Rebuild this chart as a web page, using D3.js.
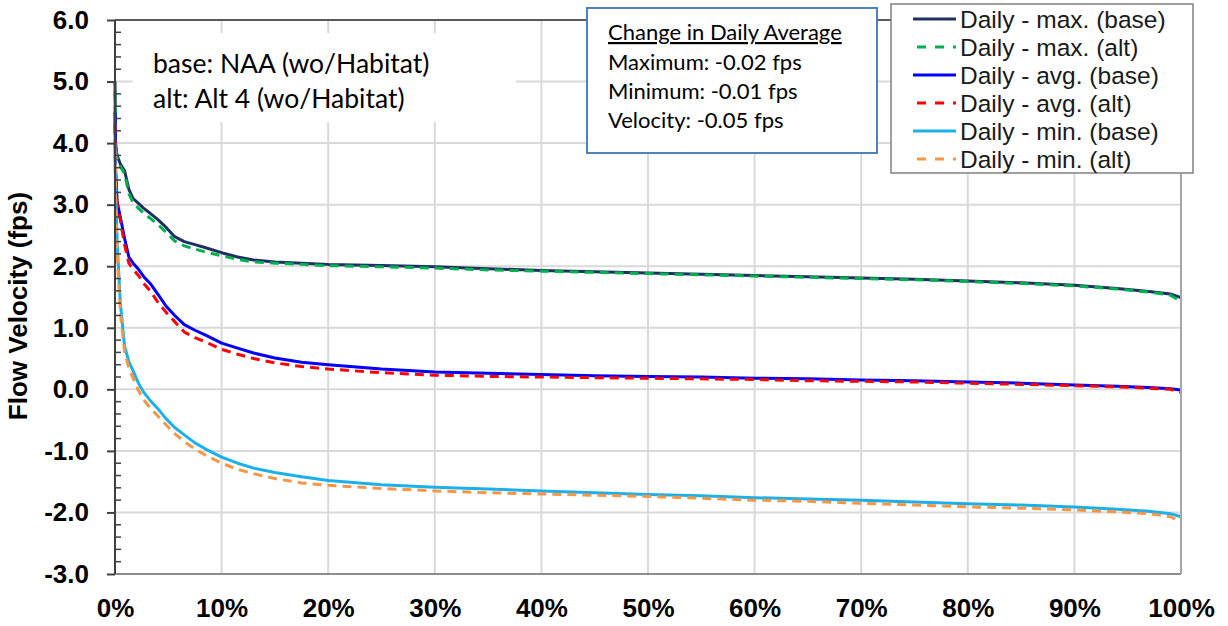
<!DOCTYPE html>
<html><head><meta charset="utf-8">
<script src="https://cdn.jsdelivr.net/npm/d3@7"></script>
<style>
body{margin:0;background:#fff;}
svg{display:block;}
.ar{font-family:'Liberation Sans', Arial, Helvetica, sans-serif;}
.cb{font-family:Lato, 'Open Sans', sans-serif;}
</style></head>
<body><svg id="c" width="1228" height="626"></svg>
<script>
// ---- data ----
const pct = [0,0.05,0.2,0.5,0.9,1.3,1.7,2.2,2.7,3.3,4,4.8,5.6,6.5,7.5,8.5,10,11.5,13,15,17.5,20,25,30,35,40,45,50,55,60,65,70,75,80,85,90,94,97,99,100];
const maxBase = [5.0,4.0,3.80,3.66,3.55,3.25,3.10,3.02,2.94,2.86,2.76,2.63,2.48,2.40,2.35,2.30,2.22,2.15,2.10,2.07,2.05,2.03,2.01,1.99,1.96,1.93,1.91,1.89,1.87,1.85,1.83,1.81,1.79,1.76,1.73,1.69,1.64,1.59,1.55,1.49];
const maxAlt  = [4.85,4.0,3.75,3.62,3.50,3.18,3.03,2.94,2.86,2.78,2.68,2.55,2.41,2.33,2.28,2.23,2.17,2.11,2.07,2.05,2.03,2.01,1.99,1.97,1.94,1.92,1.90,1.88,1.86,1.84,1.82,1.80,1.78,1.75,1.72,1.68,1.63,1.58,1.53,1.43];
const avgBase = [4.5,3.6,3.05,2.80,2.45,2.15,2.05,1.95,1.83,1.72,1.55,1.35,1.20,1.05,0.96,0.88,0.75,0.67,0.59,0.51,0.44,0.40,0.33,0.28,0.26,0.24,0.22,0.21,0.20,0.18,0.17,0.15,0.14,0.12,0.10,0.07,0.05,0.03,0.01,-0.01];
const avgAlt  = [4.3,3.5,3.0,2.75,2.35,2.05,1.95,1.85,1.72,1.60,1.42,1.25,1.10,0.93,0.84,0.77,0.65,0.57,0.50,0.43,0.37,0.33,0.27,0.23,0.21,0.20,0.19,0.18,0.17,0.16,0.14,0.13,0.12,0.10,0.08,0.06,0.04,0.02,0.0,-0.05];
const minBase = [4.0,3.3,2.4,1.4,0.70,0.45,0.30,0.10,-0.05,-0.18,-0.31,-0.48,-0.62,-0.74,-0.87,-0.97,-1.10,-1.20,-1.28,-1.35,-1.42,-1.48,-1.55,-1.59,-1.62,-1.65,-1.68,-1.71,-1.73,-1.76,-1.78,-1.80,-1.83,-1.86,-1.88,-1.91,-1.95,-1.98,-2.02,-2.07];
const minAlt  = [3.9,3.1,2.2,1.25,0.60,0.35,0.18,-0.02,-0.17,-0.30,-0.43,-0.58,-0.72,-0.85,-0.97,-1.07,-1.20,-1.30,-1.37,-1.45,-1.52,-1.56,-1.61,-1.65,-1.68,-1.70,-1.72,-1.74,-1.77,-1.80,-1.82,-1.85,-1.88,-1.91,-1.93,-1.96,-1.99,-2.02,-2.07,-2.15];
const seriesNames = ["Daily - max. (base)","Daily - max. (alt)","Daily - avg. (base)","Daily - avg. (alt)","Daily - min. (base)","Daily - min. (alt)"];
const seriesColors = ["#1f3060","#00b050","#0000ff","#ff0000","#1cb0ea","#f79646"];
const seriesDashed = [false,true,false,true,false,true];
const yTicks = [-3,-2,-1,0,1,2,3,4,5,6];
const xTicks = [0,10,20,30,40,50,60,70,80,90,100];
const noteLines = ["base: NAA (wo/Habitat)","alt: Alt 4 (wo/Habitat)"];
const changeTitle = "Change in Daily Average";
const changeLines = ["Maximum: -0.02 fps","Minimum: -0.01 fps","Velocity: -0.05 fps"];
const yLabel = "Flow Velocity (fps)";

// ---- layout ----
const svg = d3.select("#c");
const L=115, T=20, R=1181, B=574;
const x = d3.scaleLinear().domain([0,100]).range([L,R]);
const y = d3.scaleLinear().domain([-3,6]).range([B,T]);
const seriesVals = [maxBase,maxAlt,avgBase,avgAlt,minBase,minAlt];

// gridlines
const grid = svg.append("g");
grid.selectAll("line.h").data(yTicks.filter(d=>d>-3&&d<6)).join("line")
  .attr("x1",L).attr("x2",R).attr("y1",d=>y(d)).attr("y2",d=>y(d))
  .attr("stroke","#d9d9d9").attr("stroke-width",2);
grid.selectAll("line.v").data(xTicks.filter(d=>d>0&&d<100)).join("line")
  .attr("x1",d=>x(d)).attr("x2",d=>x(d)).attr("y1",T).attr("y2",B)
  .attr("stroke","#d9d9d9").attr("stroke-width",2);

// note box (white, no border)
svg.append("rect").attr("x",133).attr("y",33).attr("width",383).attr("height",89).attr("fill","#fff");
svg.selectAll("text.note").data(noteLines).join("text").attr("class","cb")
  .attr("x",153).attr("y",(d,i)=>73+i*35)
  .attr("font-size",26.5).attr("fill","#000")
  .text(d=>d);

// lines
const line = d3.line().x((d,i)=>x(pct[i])).y(d=>y(d));
const order=[0,1,2,3,4,5];
svg.append("g").selectAll("path").data(order).join("path")
  .attr("d",i=>line(seriesVals[i]))
  .attr("fill","none").attr("stroke",i=>seriesColors[i]).attr("stroke-width",3)
  .attr("stroke-dasharray",i=>seriesDashed[i]?"9,6":null)
  .attr("stroke-linejoin","round");

// axes
const yAxis = svg.append("g").attr("transform",`translate(${L},0)`)
  .call(d3.axisLeft(y).tickValues(yTicks).tickSize(8).tickPadding(18).tickFormat(d=>d.toFixed(1)));
yAxis.attr("font-family",null).attr("font-size",null);
yAxis.select(".domain").remove();
yAxis.selectAll(".tick line").attr("stroke","#404040").attr("stroke-width",2);
yAxis.selectAll(".tick text").attr("class","ar")
  .attr("font-weight","bold").attr("font-size",26).attr("fill","#000");
// minor ticks inward
const minor = d3.range(-3,6.001,0.2).map(v=>Math.round(v*10)/10).filter(v=>Math.abs(v-Math.round(v))>1e-6);
svg.append("g").selectAll("line").data(minor).join("line")
  .attr("x1",L).attr("x2",L+6).attr("y1",d=>y(d)).attr("y2",d=>y(d))
  .attr("stroke","#404040").attr("stroke-width",1.5);

const xAxis = svg.append("g").attr("transform",`translate(0,${B})`)
  .call(d3.axisBottom(x).tickValues(xTicks).tickSize(0).tickPadding(0).tickFormat(d=>d+"%"));
xAxis.attr("font-family",null).attr("font-size",null);
xAxis.select(".domain").remove();
xAxis.selectAll(".tick text").attr("class","ar")
  .attr("font-weight","bold").attr("font-size",26).attr("fill","#000")
  .attr("y",43).attr("dy",0);

// frame
svg.append("line").attr("x1",L).attr("x2",R).attr("y1",B).attr("y2",B).attr("stroke","#8c8c8c").attr("stroke-width",2);
svg.append("line").attr("x1",R).attr("x2",R).attr("y1",T).attr("y2",B).attr("stroke","#a6a6a6").attr("stroke-width",2);
svg.append("line").attr("x1",L).attr("x2",R).attr("y1",T).attr("y2",T).attr("stroke","#595959").attr("stroke-width",2);
svg.append("line").attr("x1",L).attr("x2",L).attr("y1",T).attr("y2",B).attr("stroke","#404040").attr("stroke-width",2);

// y label
svg.append("text").attr("class","ar").attr("transform","translate(27,306) rotate(-90)")
  .attr("text-anchor","middle")
  .attr("font-weight","bold").attr("font-size",26).attr("fill","#000").text(yLabel);

// change box
svg.append("rect").attr("x",587).attr("y",8).attr("width",290).attr("height",145)
  .attr("fill","#fff").attr("stroke","#4f81bd").attr("stroke-width",2);
svg.append("text").attr("class","cb").attr("x",608).attr("y",40)
  .attr("font-size",22).attr("text-decoration","underline").attr("fill","#000").text(changeTitle);
svg.selectAll("text.chg").data(changeLines).join("text").attr("class","cb")
  .attr("x",608).attr("y",(d,i)=>70+i*29)
  .attr("font-size",22).attr("fill","#000").text(d=>d);

// legend
const lg = svg.append("g");
lg.append("rect").attr("x",891).attr("y",4).attr("width",302).attr("height",169)
  .attr("fill","#fff").attr("stroke","#808080").attr("stroke-width",1.5);
const rows = lg.selectAll("g.row").data(order).join("g")
  .attr("transform",i=>`translate(0,${19+i*28})`);
rows.append("line").attr("x1",913).attr("x2",956).attr("y1",0).attr("y2",0)
  .attr("stroke",i=>seriesColors[i]).attr("stroke-width",3)
  .attr("stroke-dasharray",i=>seriesDashed[i]?"9,9":null).attr("stroke-dashoffset",i=>seriesDashed[i]?-4:0);
rows.append("text").attr("class","ar").attr("x",960).attr("y",0).attr("dy","0.36em")
  .attr("font-size",24.5).attr("fill","#1a1a1a")
  .text(i=>seriesNames[i]);
</script></body></html>
